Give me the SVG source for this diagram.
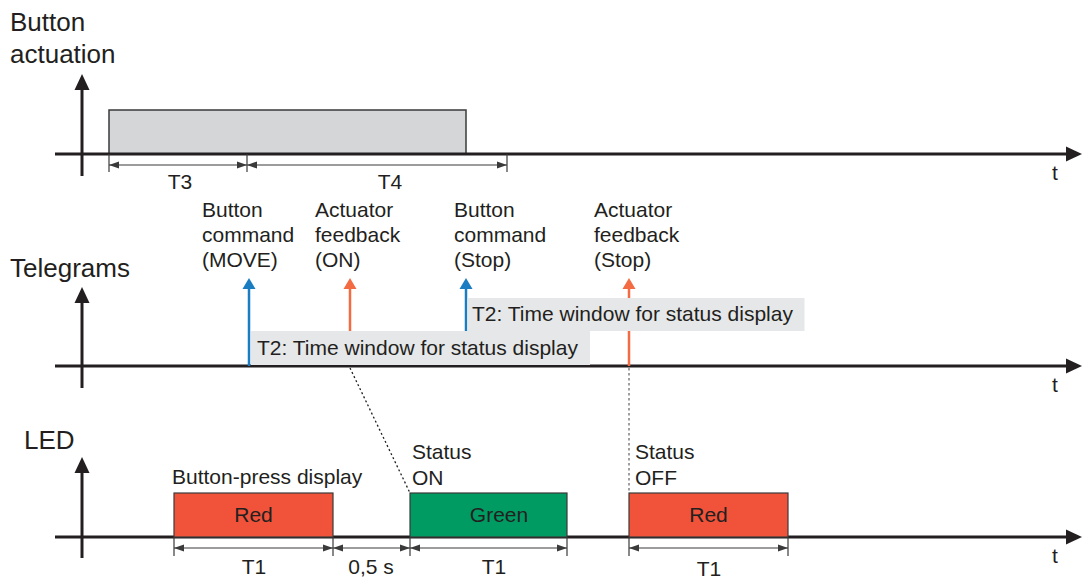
<svg xmlns="http://www.w3.org/2000/svg" width="1082" height="578" viewBox="0 0 1082 578">
<style>
text{font-family:"Liberation Sans",Arial,sans-serif;fill:#231f20}
.h{font-size:26px}
.l{font-size:21px}
.c{text-anchor:middle}
.axis{stroke:#231f20;stroke-width:3;fill:none}
.dim{stroke:#3a3a3a;stroke-width:1.2;fill:none}
.tick{stroke:#3a3a3a;stroke-width:1.2}
.box{fill:#e6e7e8}
.dot{stroke:#231f20;stroke-width:1.3;stroke-dasharray:2,2.5;fill:none}
.dotg{stroke:#808080;stroke-width:1.5;stroke-dasharray:2.5,2.5;fill:none}
</style>
<defs>
<marker id="ax" markerUnits="userSpaceOnUse" markerWidth="20" markerHeight="20" viewBox="0 -10 20 20" refX="0" refY="0" orient="auto">
<path d="M0,-7.5 L16,0 L0,7.5 Z" fill="#231f20"/>
</marker>
<marker id="da" markerUnits="userSpaceOnUse" markerWidth="12" markerHeight="10" viewBox="0 -5 12 10" refX="10" refY="0" orient="auto-start-reverse">
<path d="M0,-3.5 L10,0 L0,3.5 Z" fill="#3a3a3a"/>
</marker>
<marker id="ab" markerUnits="userSpaceOnUse" markerWidth="14" markerHeight="16" viewBox="0 -8 14 16" refX="0" refY="0" orient="auto">
<path d="M0,-6.5 L11,0 L0,6.5 Z" fill="#1b7dc1"/>
</marker>
<marker id="ao" markerUnits="userSpaceOnUse" markerWidth="14" markerHeight="16" viewBox="0 -8 14 16" refX="0" refY="0" orient="auto">
<path d="M0,-6.5 L11,0 L0,6.5 Z" fill="#f26b43"/>
</marker>
</defs>

<g id="button-actuation">
<text class="h" x="10" y="31">Button</text>
<text class="h" x="10" y="63">actuation</text>
<rect x="109" y="110" width="357" height="44" fill="#d5d6d8" stroke="#3a3a3a" stroke-width="1.5"/>
<line class="axis" x1="82" y1="176" x2="82" y2="90" marker-end="url(#ax)"/>
<line class="axis" x1="55" y1="154" x2="1066" y2="154" marker-end="url(#ax)"/>
<text class="l" x="1052" y="180">t</text>
<line class="tick" x1="109" y1="154" x2="109" y2="172"/>
<line class="tick" x1="247" y1="154" x2="247" y2="172"/>
<line class="tick" x1="507" y1="154" x2="507" y2="172"/>
<line class="dim" x1="109" y1="165" x2="247" y2="165" marker-start="url(#da)" marker-end="url(#da)"/>
<line class="dim" x1="247" y1="165" x2="507" y2="165" marker-start="url(#da)" marker-end="url(#da)"/>
<text class="l c" x="180" y="189">T3</text>
<text class="l c" x="390" y="189">T4</text>
</g>

<g id="telegrams">
<text class="h" x="10" y="277">Telegrams</text>
<line class="axis" x1="82" y1="388" x2="82" y2="303" marker-end="url(#ax)"/>
<line class="axis" x1="55" y1="366" x2="1066" y2="366" marker-end="url(#ax)"/>
<text class="l" x="1052" y="392">t</text>
</g>

<g id="tg-move">
<line x1="249" y1="366" x2="249" y2="289" stroke="#1b7dc1" stroke-width="2.5" marker-end="url(#ab)"/>
<text class="l" x="202" y="217">Button</text>
<text class="l" x="202" y="242">command</text>
<text class="l" x="202" y="267">(MOVE)</text>
</g>
<g id="tg-on">
<line x1="350" y1="331" x2="350" y2="289" stroke="#f26b43" stroke-width="2.5" marker-end="url(#ao)"/>
<text class="l" x="315" y="217">Actuator</text>
<text class="l" x="315" y="242">feedback</text>
<text class="l" x="315" y="267">(ON)</text>
</g>
<g id="tg-stop">
<line x1="466" y1="331" x2="466" y2="289" stroke="#1b7dc1" stroke-width="2.5" marker-end="url(#ab)"/>
<text class="l" x="454" y="217">Button</text>
<text class="l" x="454" y="242">command</text>
<text class="l" x="454" y="267">(Stop)</text>
</g>
<g id="tg-fb-stop">
<line x1="629" y1="366" x2="629" y2="289" stroke="#f26b43" stroke-width="2.5" marker-end="url(#ao)"/>
<text class="l" x="594" y="217">Actuator</text>
<text class="l" x="594" y="242">feedback</text>
<text class="l" x="594" y="267">(Stop)</text>
</g>
<g id="t2-window-1">
<rect class="box" x="251" y="331" width="339" height="34"/>
<text class="l" x="257" y="355">T2: Time window for status display</text>
</g>
<g id="t2-window-2">
<rect class="box" x="467.5" y="298" width="337" height="33"/>
<text class="l" x="472" y="321">T2: Time window for status display</text>
</g>

<g id="led">
<text class="h" x="24" y="449">LED</text>
<line class="axis" x1="82" y1="558" x2="82" y2="473" marker-end="url(#ax)"/>
<line class="axis" x1="55" y1="537" x2="1066" y2="537" marker-end="url(#ax)"/>
<text class="l" x="1052" y="563">t</text>
</g>

<g id="led-red-1">
<rect x="174" y="493" width="159" height="44" fill="#f0533a" stroke="#3a3a3a" stroke-width="1.2"/>
<text class="l c" x="253.5" y="522">Red</text>
<text class="l" x="172" y="484">Button-press display</text>
</g>
<g id="led-green">
<rect x="410" y="493" width="157" height="44" fill="#009a63" stroke="#3a3a3a" stroke-width="1.2"/>
<text class="l c" x="499" y="522">Green</text>
<text class="l" x="412" y="459">Status</text>
<text class="l" x="412" y="485">ON</text>
</g>
<g id="led-red-2">
<rect x="629" y="493" width="159" height="44" fill="#f0533a" stroke="#3a3a3a" stroke-width="1.2"/>
<text class="l c" x="708.5" y="522">Red</text>
<text class="l" x="635" y="459">Status</text>
<text class="l" x="635" y="485">OFF</text>
</g>

<g id="connectors">
<line class="dot" x1="350" y1="368" x2="410" y2="493"/>
<line class="dotg" x1="629" y1="368" x2="629" y2="493"/>
<line class="tick" x1="174" y1="537" x2="174" y2="556"/>
<line class="tick" x1="333" y1="537" x2="333" y2="556"/>
<line class="tick" x1="410" y1="537" x2="410" y2="556"/>
<line class="tick" x1="567" y1="537" x2="567" y2="556"/>
<line class="tick" x1="629" y1="537" x2="629" y2="556"/>
<line class="tick" x1="788" y1="537" x2="788" y2="556"/>
<line class="dim" x1="174" y1="548" x2="333" y2="548" marker-start="url(#da)" marker-end="url(#da)"/>
<line class="dim" x1="333" y1="548" x2="410" y2="548" marker-start="url(#da)" marker-end="url(#da)"/>
<line class="dim" x1="410" y1="548" x2="567" y2="548" marker-start="url(#da)" marker-end="url(#da)"/>
<line class="dim" x1="629" y1="548" x2="788" y2="548" marker-start="url(#da)" marker-end="url(#da)"/>
<text class="l c" x="254" y="574">T1</text>
<text class="l c" x="371" y="574">0,5 s</text>
<text class="l c" x="494" y="574">T1</text>
<text class="l c" x="709" y="576">T1</text>
</g>
</svg>
